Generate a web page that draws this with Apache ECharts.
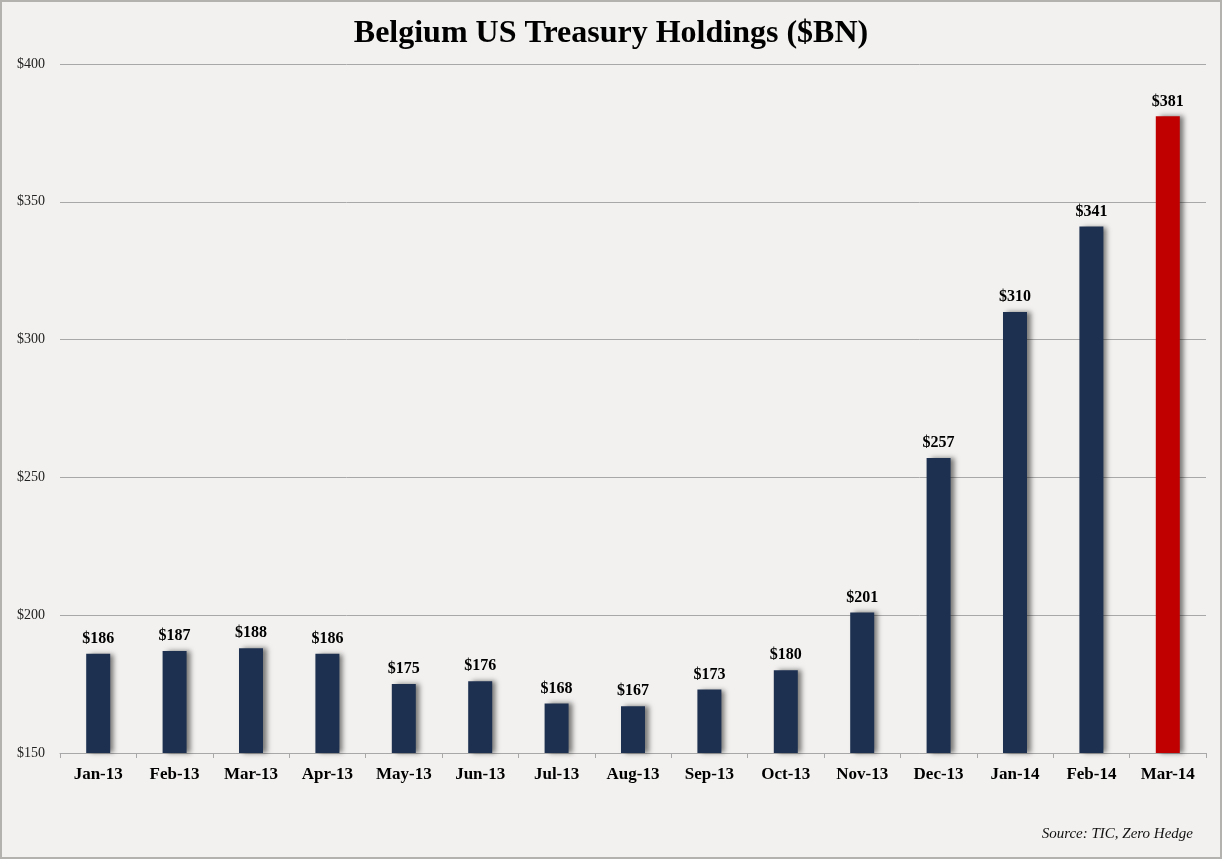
<!DOCTYPE html>
<html>
<head>
<meta charset="utf-8">
<script src="https://cdn.jsdelivr.net/npm/echarts@6/dist/echarts.min.js"></script>
<style>
  html, body { margin: 0; padding: 0; background: #f2f1ef; }
  #main { width: 1222px; height: 859px; box-sizing: border-box; border: 2px solid #b4b2ae; }
</style>
</head>
<body>
<div id="main"></div>
<script>
const months = ['Jan-13', 'Feb-13', 'Mar-13', 'Apr-13', 'May-13', 'Jun-13', 'Jul-13', 'Aug-13',
  'Sep-13', 'Oct-13', 'Nov-13', 'Dec-13', 'Jan-14', 'Feb-14', 'Mar-14']
const holdings = [186, 187, 188, 186, 175, 176, 168, 167, 173, 180, 201, 257, 310, 341, 381]

const serif = '"Liberation Serif", "DejaVu Serif", serif'

let chart = echarts.init(document.querySelector('#main'))

let option = {
  backgroundColor: '#f2f1ef',
  animation: false,
  title: [
    {
      text: 'Belgium US Treasury Holdings ($BN)',
      left: 'center',
      top: 11,
      textStyle: { fontFamily: serif, fontSize: 32, fontWeight: 'bold', color: '#000' }
    },
    {
      text: 'Source: TIC, Zero Hedge',
      right: 22,
      top: 820,
      textStyle: { fontFamily: serif, fontSize: 15, fontStyle: 'italic', fontWeight: 'normal', color: '#111' }
    }
  ],
  grid: { left: 58, right: 14, top: 62, bottom: 104 },
  xAxis: {
    type: 'category',
    data: months,
    axisLine: { lineStyle: { color: '#a8a8a8' } },
    axisTick: { show: true, length: 5, lineStyle: { color: '#a8a8a8' } },
    axisLabel: { fontFamily: serif, fontSize: 17, fontWeight: 'bold', color: '#000', margin: 13 }
  },
  yAxis: {
    type: 'value',
    min: 150,
    max: 400,
    interval: 50,
    axisLine: { show: false },
    axisTick: { show: false },
    axisLabel: { fontFamily: serif, fontSize: 14, color: '#222', margin: 15, formatter: '${value}' },
    splitLine: { lineStyle: { color: '#a8a8a8', width: 1 } }
  },
  series: [
    {
      type: 'bar',
      barWidth: 24,
      data: holdings.map((v, i) => ({
        value: v,
        itemStyle: { color: i === holdings.length - 1 ? '#c00000' : '#1d3050' }
      })),
      itemStyle: {
        shadowColor: 'rgba(0,0,0,0.5)',
        shadowBlur: 5,
        shadowOffsetX: 4,
        shadowOffsetY: 0
      },
      label: {
        show: true,
        position: 'top',
        distance: 7,
        formatter: '${c}',
        fontFamily: serif,
        fontSize: 16,
        fontWeight: 'bold',
        color: '#000'
      }
    }
  ]
}

chart.setOption(option)
</script>
</body>
</html>
